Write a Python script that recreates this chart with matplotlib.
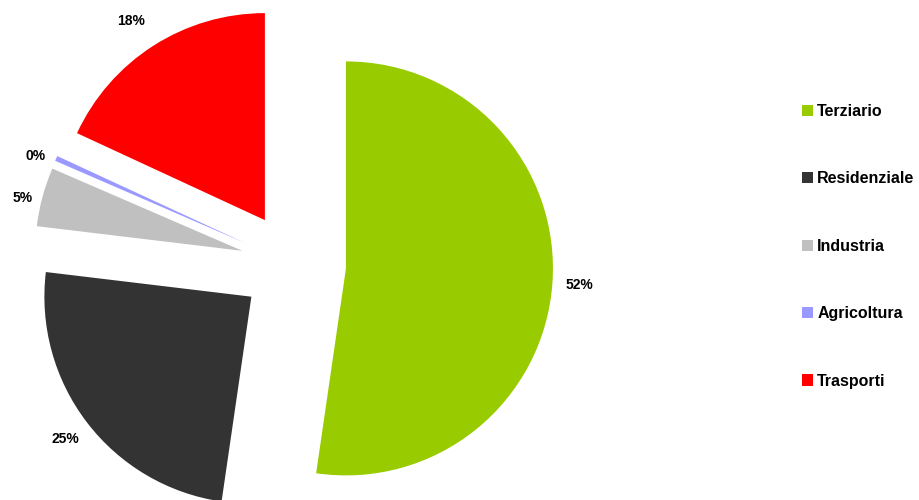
import matplotlib
matplotlib.use("Agg")
import matplotlib.pyplot as plt

# energy consumption share by sector
sectors = ["Terziario", "Residenziale", "Industria", "Agricoltura", "Trasporti"]
shares = [52.3, 24.6, 4.6, 0.4, 18.1]
colors = ["#99CC00", "#333333", "#C0C0C0", "#9999FF", "#FF0000"]

plt.rcParams['font.family'] = ['Liberation Sans', 'DejaVu Sans']

fig = plt.figure(figsize=(9.19, 5.0), dpi=100)
ax = fig.add_axes([0, 0, 1, 1])

wedges, texts, autotexts = ax.pie(
    shares,
    colors=colors,
    explode=[0.255] * len(shares),
    startangle=90,
    counterclock=False,
    radius=1.0,
    autopct='%.0f%%',
    pctdistance=1.13,
    wedgeprops=dict(linewidth=0),
    textprops=dict(fontsize=10, fontweight='bold', color='black'),
)

# nudge the small-slice labels a little so they don't crowd
nudges = [(0.0, 0.0), (0.0, 0.0), (0.03, -0.04), (0.02, -0.04), (-0.04, 0.01)]
for t, (dx, dy) in zip(autotexts, nudges):
    x, y = t.get_position()
    t.set_position((x + dx, y + dy))

# pie centre sits left of middle, bottom of the pie runs off the canvas
r_px = 207.0
cx, cy = 293.3, 264.6
ax.set_xlim(-cx / r_px, (919 - cx) / r_px)
ax.set_ylim(-(500 - cy) / r_px, cy / r_px)
ax.set_aspect('auto')
ax.axis('off')

ax.legend(
    wedges, sectors,
    loc='upper left',
    bbox_to_anchor=(802 / 919, 1 - 104 / 500),
    bbox_transform=fig.transFigure,
    frameon=False,
    borderpad=0,
    borderaxespad=0,
    labelspacing=3.28,
    handlelength=0.7,
    handleheight=0.7,
    handletextpad=0.25,
    prop=dict(size=11.5, weight='bold'),
)

fig.savefig("out.png", dpi=100)
